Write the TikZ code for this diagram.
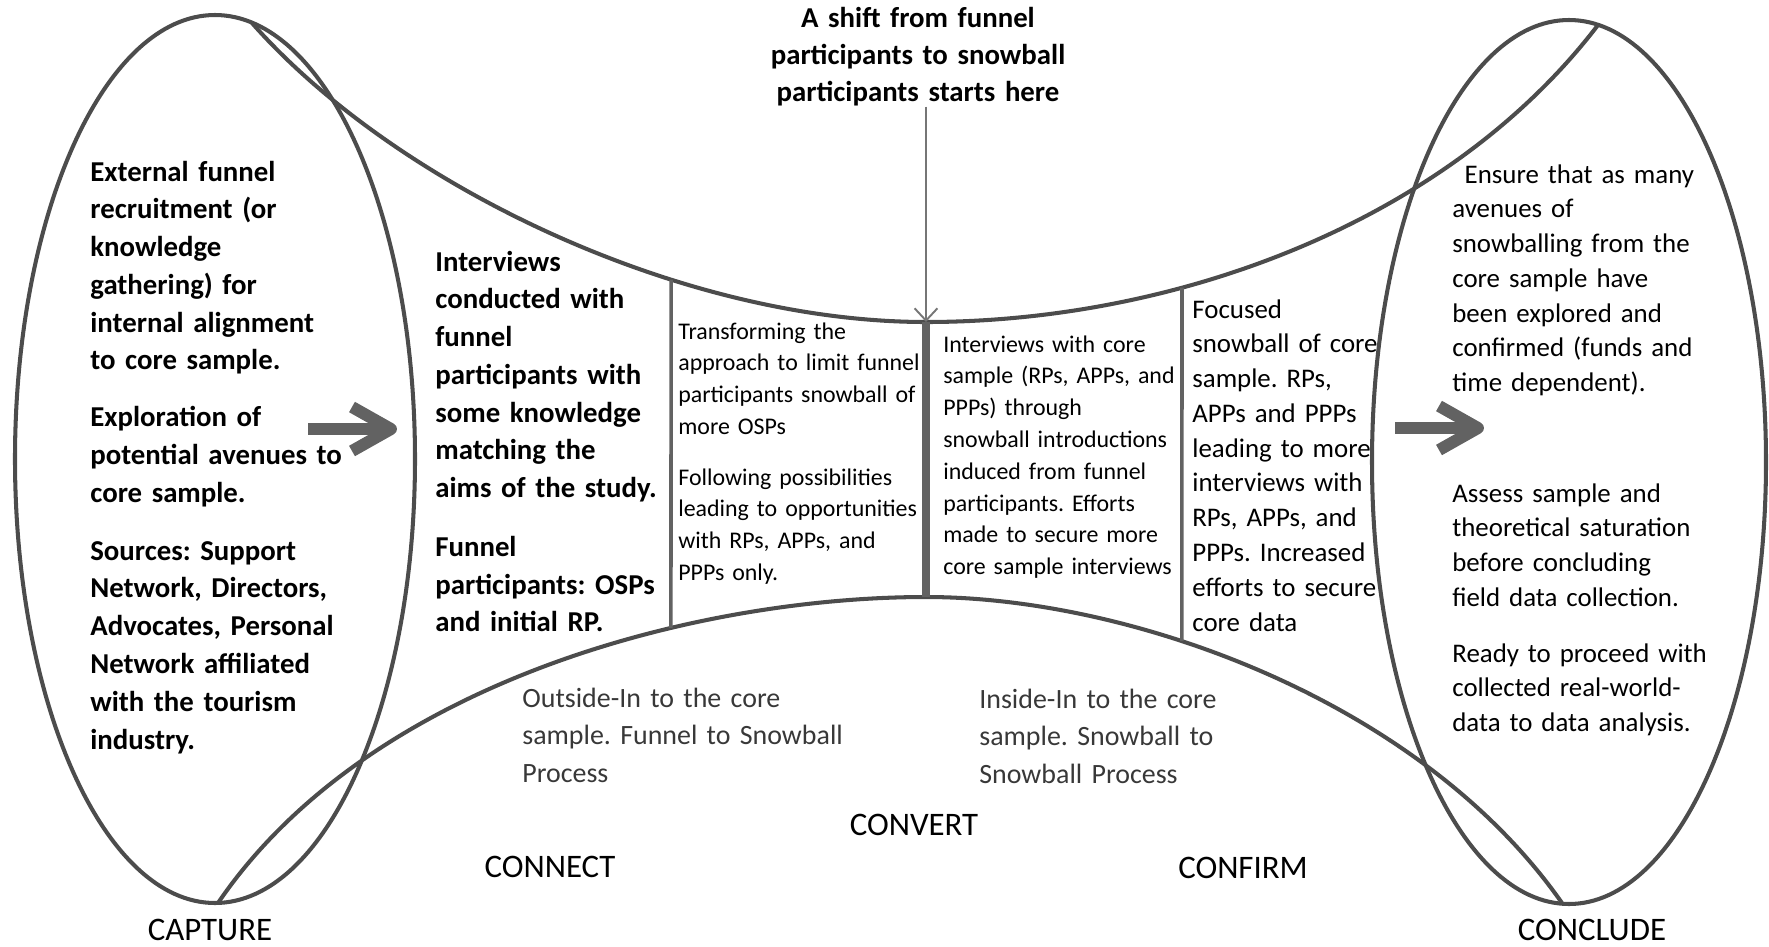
\documentclass[tikz,border=0pt]{standalone}
\usepackage{fontspec}
\setmainfont{Carlito}
\usetikzlibrary{arrows.meta,intersections}

\definecolor{lineg}{HTML}{4C4C4C}
\definecolor{barg}{HTML}{626262}
\definecolor{arrg}{HTML}{767676}
\definecolor{softtext}{HTML}{383838}
\newcommand\fsz[2]{\fontsize{#1}{#2}\selectfont}
\frenchspacing

\begin{document}
\begin{tikzpicture}[x=0.02cm,y=-0.02cm,
  outline/.style={draw=lineg, line width=2.3pt},
  divider/.style={draw=barg, line width=2pt},
  corebar/.style={draw=barg, line width=5pt},
  txt/.style={anchor=base west, inner sep=0pt, text width=9cm, align=left},
  boldtxt/.style={txt, font=\fsz{16.4pt}{21.5pt}\bfseries},
  smalltxt/.style={txt, font=\fsz{13.6pt}{18.1pt}},
  midtxt/.style={txt, font=\fsz{15.3pt}{19.8pt}},
  flowtxt/.style={txt, font=\fsz{15.9pt}{21.5pt}, text=softtext},
  stage/.style={anchor=base, inner sep=0pt, font=\fsz{18.7pt}{22pt}},
  fatarrow/.pic={
    \draw[barg, line width=6.8pt] (0,0) -- (72,0);
    \draw[barg, line width=6.8pt, line join=round] (44,-22) -- (83,0) -- (44,22);
  }]
\useasboundingbox (0,0) rectangle (1769,947);

% the two end rings
\draw[outline] (215,459) ellipse [x radius=200, y radius=444];
\draw[outline] (1569,462) ellipse [x radius=197, y radius=442];

% upper and lower boundaries of the funnel
\draw[outline, name path=upper] (252,23) .. controls (395,185) and (680,322) .. (926,322)
  .. controls (1172,322) and (1445,225) .. (1598,25);
\draw[outline, name path=lower] (218,903) .. controls (370,680) and (700,597) .. (926,597)
  .. controls (1130,597) and (1420,700) .. (1562,903);

% column dividers
\path[name path=cutA] (671,0) -- (671,947);
\path[name path=cutB] (1182,0) -- (1182,947);
\path[name intersections={of=upper and cutA, by=dAt}];
\path[name intersections={of=lower and cutA, by=dAb}];
\path[name intersections={of=upper and cutB, by=dBt}];
\path[name intersections={of=lower and cutB, by=dBb}];
\draw[divider] (dAt) -- (dAb);
\draw[divider] (dBt) -- (dBb);
\coordinate (ct) at (926,322);
\coordinate (cb) at (926,597);
\draw[corebar] (ct) -- (cb);

% shift marker
\node[anchor=base, inner sep=0pt, text width=8cm, align=center,
      font=\fsz{16.4pt}{21.3pt}\bfseries] (shift) at (918,27)
  {A shift from funnel\\participants to snowball\\participants starts here};
\draw[arrg, line width=1.1pt, -{Straight Barb[length=7pt,width=13pt]}]
  (shift.south -| ct) -- (ct);

% block arrows
\pic at (308,429) {fatarrow};
\pic at (1395,428) {fatarrow};

% texts
\node[boldtxt] (capturetxt) at (90,181) {External funnel\\recruitment (or\\knowledge\\gathering) for\\internal alignment\\to core sample.\\[10.8pt]Exploration of\\potential avenues to\\core sample.\\[11.5pt]Sources: Support\\Network, Directors,\\Advocates, Personal\\Network affiliated\\with the tourism\\industry.};

\node[boldtxt] (connecttxt) at (435,271) {Interviews\\conducted with\\funnel\\participants with\\some knowledge\\matching the\\aims of the study.\\[11.9pt]Funnel\\participants: OSPs\\and initial RP.};

\node[smalltxt] (transformtxt) at (678,339) {Transforming the\\approach to limit funnel\\participants snowball of\\more OSPs\\[10.8pt]Following possibilities\\leading to opportunities\\with RPs, APPs, and\\PPPs only.};

\node[smalltxt] (coretxt) at (943,352) {Interviews with core\\sample (RPs, APPs, and\\PPPs) through\\snowball introductions\\induced from funnel\\participants. Efforts\\made to secure more\\core sample interviews};

\node[midtxt] (focustxt) at (1192,318) {Focused\\snowball of core\\sample. RPs,\\APPs and PPPs\\leading to more\\interviews with\\RPs, APPs, and\\PPPs. Increased\\efforts to secure\\core data};

\node[midtxt] (ensuretxt) at (1452,183) {\hspace*{7pt}Ensure that as many\\avenues of\\snowballing from the\\core sample have\\been explored and\\confirmed (funds and\\time dependent).};
\node[midtxt] (assesstxt) at (1452,502) {Assess sample and\\theoretical saturation\\before concluding\\field data collection.};
\node[midtxt] (readytxt) at (1452,662) {Ready to proceed with\\collected real-world-\\data to data analysis.};

\node[flowtxt] (outsidetxt) at (522,707) {Outside-In to the core\\sample. Funnel to Snowball\\Process};
\node[flowtxt] (insidetxt) at (979,708) {Inside-In to the core\\sample. Snowball to\\Snowball Process};

% stage labels
\node[stage] (capture) at (210,940) {CAPTURE};
\node[stage] (connect) at (550,877) {CONNECT};
\node[stage] (convert) at (914,835) {CONVERT};
\node[stage] (confirm) at (1243,878) {CONFIRM};
\node[stage] (conclude) at (1592,940) {CONCLUDE};
\end{tikzpicture}
\end{document}
